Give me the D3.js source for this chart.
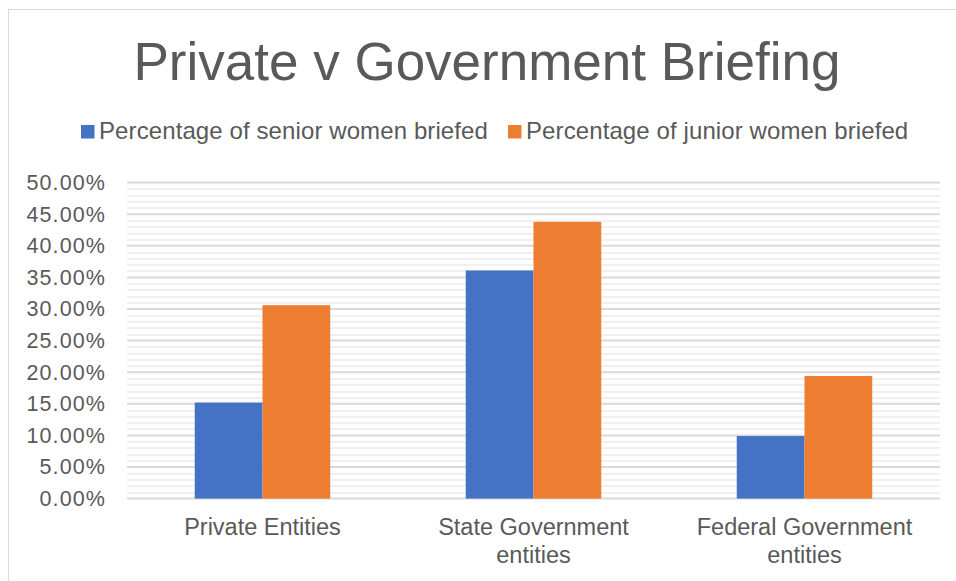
<!DOCTYPE html>
<html>
<head>
<meta charset="utf-8">
<script src="https://cdn.jsdelivr.net/npm/d3@7"></script>
<style>
  html, body { margin: 0; padding: 0; background: #fff; }
  svg { display: block; font-family: "Liberation Sans", Arial, sans-serif; }
</style>
</head>
<body>
<svg id="chart" width="956" height="581"></svg>
<script>
// Chart data
const categories = [["Private Entities"], ["State Government", "entities"], ["Federal Government", "entities"]];
const seriesNames = ["Percentage of senior women briefed", "Percentage of junior women briefed"];
const seniorValues = [0.152, 0.361, 0.099];
const juniorValues = [0.306, 0.438, 0.194];
const yTicks = [0, 0.05, 0.10, 0.15, 0.20, 0.25, 0.30, 0.35, 0.40, 0.45, 0.50];
const colors = ["#4472c4", "#ed7d31"];

const svg = d3.select("#chart");
const W = 956, H = 581;
const margin = { top: 182.6, right: 16, bottom: 82.4, left: 127 };
const plotW = W - margin.left - margin.right;
const plotH = H - margin.top - margin.bottom;

// Outer chart frame
svg.append("rect")
  .attr("x", 8.5).attr("y", 9.5)
  .attr("width", W + 10).attr("height", H + 10)
  .attr("fill", "#fff").attr("stroke", "#d9d9d9").attr("stroke-width", 1);

// Title
svg.append("text")
  .attr("x", 487).attr("y", 80)
  .attr("text-anchor", "middle")
  .attr("fill", "#595959")
  .attr("font-size", 53)
  .text("Private v Government Briefing");

// Legend
const legend = svg.append("g");
const legendItems = [{ x: 81, name: seriesNames[0], color: colors[0] }, { x: 508, name: seriesNames[1], color: colors[1] }];
legendItems.forEach(d => {
  legend.append("rect").attr("x", d.x).attr("y", 125).attr("width", 13.5).attr("height", 13.5).attr("fill", d.color);
  legend.append("text").attr("x", d.x + 18).attr("y", 138.5)
    .attr("fill", "#595959").attr("font-size", 24).attr("letter-spacing", 0.1).text(d.name);
});

const g = svg.append("g").attr("transform", `translate(${margin.left},${margin.top})`);

const y = d3.scaleLinear().domain([0, 0.5]).range([plotH, 0]);
const x0 = d3.scaleBand().domain(d3.range(categories.length)).range([0, plotW]).paddingInner(0).paddingOuter(0);
const x1 = d3.scaleBand().domain([0, 1]).range([x0.bandwidth() * 0.25, x0.bandwidth() * 0.75]);

// Minor gridlines every 1%
const minor = d3.range(1, 50).filter(v => v % 5 !== 0).map(v => v / 100);
g.append("g").selectAll("line").data(minor).join("line")
  .attr("x1", 0).attr("x2", plotW)
  .attr("y1", d => Math.round(y(d)) + 0.5).attr("y2", d => Math.round(y(d)) + 0.5)
  .attr("stroke", "#f0f0f0").attr("stroke-width", 2);

// Major gridlines
g.append("g").selectAll("line").data(yTicks).join("line")
  .attr("x1", 0).attr("x2", plotW)
  .attr("y1", d => y(d)).attr("y2", d => y(d))
  .attr("stroke", "#d9d9d9").attr("stroke-width", 2);

// Y axis labels
const yAxis = d3.axisLeft(y).tickValues(yTicks).tickFormat(d3.format(".2%")).tickSize(0).tickPadding(21);
const ya = g.append("g").call(yAxis);
ya.select(".domain").remove();
ya.selectAll("text").attr("fill", "#595959").attr("font-size", 21.5)
  .attr("letter-spacing", 1.1)
  .attr("font-family", "Liberation Sans, Arial, sans-serif");

// Bars
const groups = g.append("g").selectAll("g").data(categories.map((c, i) => i)).join("g")
  .attr("transform", i => `translate(${x0(i)},0)`);
groups.selectAll("rect")
  .data(i => [seniorValues[i], juniorValues[i]].map((v, s) => ({ v, s })))
  .join("rect")
  .attr("x", d => x1(d.s))
  .attr("width", x1.bandwidth())
  .attr("y", d => y(d.v))
  .attr("height", d => plotH - y(d.v))
  .attr("fill", d => colors[d.s]);

// Category labels
const xl = g.append("g").selectAll("text").data(categories.map((c, i) => ({ c, i }))).join("text")
  .attr("text-anchor", "middle")
  .attr("fill", "#595959").attr("font-size", 23.5)
  .attr("transform", d => `translate(${x0(d.i) + x0.bandwidth() / 2},${plotH + 36.5})`);
xl.selectAll("tspan").data(d => d.c).join("tspan")
  .attr("x", 0).attr("dy", (t, j) => j === 0 ? 0 : 28).text(t => t);
</script>
</body>
</html>
